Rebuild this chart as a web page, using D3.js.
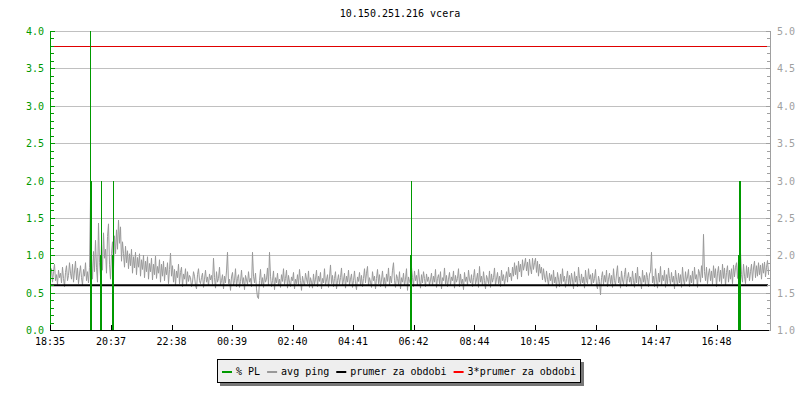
<!DOCTYPE html>
<html><head><meta charset="utf-8">
<script src="https://cdn.jsdelivr.net/npm/d3@7"></script>
<style>
body{margin:0;background:#fff}
text{font-family:"DejaVu Sans Mono","Liberation Mono",monospace;font-size:10px}
</style>
</head><body><svg id="c" width="800" height="400"></svg>
<script>
const title = "10.150.251.216 vcera";
const startTime = new Date(2020, 0, 1, 18, 35);
const spanMinutes = 1436;
const stepMinutes = 2;
// avg ping (right axis), one value every 2 minutes
const pingValues = [
1.72,1.82,1.64,1.78,1.88,1.66,1.74,1.61,1.80,1.70,1.76,1.63,1.84,1.69,1.58,1.77,1.86,1.66,1.73,1.90,
1.76,1.68,1.88,1.64,1.79,1.92,1.67,1.83,1.62,1.75,1.86,1.70,1.60,1.81,1.72,1.90,1.66,1.78,1.63,1.84,
2.75,1.95,1.68,2.05,1.78,2.20,1.84,1.64,2.43,1.90,1.72,2.15,1.80,2.30,1.96,2.08,1.76,2.25,2.42,1.88,
1.68,2.02,2.18,1.82,2.26,2.02,2.34,2.08,2.47,2.16,2.38,1.92,2.18,2.02,1.84,2.12,1.90,2.06,1.82,2.02,
1.86,2.08,1.76,1.98,1.83,2.04,1.74,1.97,1.84,2.02,1.72,1.94,1.81,2.00,1.70,1.92,1.78,1.98,1.68,1.89,
1.78,1.96,1.67,1.88,1.74,1.99,1.69,1.85,1.76,1.94,1.64,1.88,1.72,1.92,1.66,1.84,1.74,1.90,1.62,1.81,
2.03,1.72,1.86,1.64,1.81,1.60,1.79,1.70,1.88,1.62,1.77,1.84,1.58,1.75,1.68,1.82,1.60,1.78,1.65,1.73,
1.70,1.58,1.64,1.78,1.72,1.60,1.55,1.74,1.82,1.66,1.62,1.70,1.76,1.57,1.68,1.80,1.64,1.71,1.59,1.75,
1.67,1.73,1.61,1.96,1.70,1.56,1.78,1.64,1.69,1.84,1.60,1.66,1.74,1.55,1.72,1.63,1.79,2.04,1.62,1.68,
1.53,1.71,1.77,1.60,1.66,1.82,1.58,1.69,1.74,1.57,1.65,1.80,1.62,1.70,1.54,1.73,1.67,1.61,1.78,1.64,
1.69,1.58,2.04,1.72,1.63,1.76,1.55,1.44,1.42,1.66,1.81,1.60,1.70,1.57,1.75,1.64,1.68,1.83,1.59,2.04,
1.72,1.58,1.66,1.79,1.54,1.70,1.63,1.76,1.60,1.68,1.57,1.74,1.65,1.82,1.61,1.69,1.80,1.56,1.73,1.64,
1.58,1.71,1.66,1.77,1.55,1.68,1.62,1.74,1.60,1.81,1.66,1.53,1.72,1.64,1.59,1.76,1.68,1.62,1.79,1.57,
1.70,1.64,1.56,1.75,1.61,1.68,1.80,1.58,1.72,1.65,1.77,1.55,1.69,1.63,1.82,1.60,1.67,1.74,1.57,1.71,
1.87,1.62,1.73,1.58,1.69,1.78,1.55,1.66,1.74,1.61,1.70,1.83,1.59,1.67,1.76,1.56,1.72,1.64,1.80,1.60,
1.68,1.75,1.57,1.66,1.79,1.62,1.54,1.71,1.65,1.77,1.60,1.73,1.58,1.69,1.82,1.63,1.76,1.85,1.59,1.70,
1.64,1.57,1.78,1.66,1.72,1.55,1.69,1.81,1.62,1.74,1.58,1.67,1.79,1.61,1.70,1.56,1.75,1.65,1.83,1.60,
1.72,1.63,1.80,1.90,1.66,1.57,1.74,1.69,1.61,1.78,1.55,1.70,1.64,1.76,1.59,1.68,1.82,1.53,1.71,1.65,
1.62,1.84,1.70,1.58,1.79,1.66,1.73,1.60,1.81,1.67,1.56,1.74,1.63,1.78,1.69,1.58,1.75,1.65,1.71,1.60,
1.67,1.76,1.59,1.72,1.64,1.81,1.57,1.69,1.74,1.62,1.78,1.55,1.70,1.66,1.83,1.61,1.73,1.58,1.68,1.77,
1.60,1.71,1.66,1.79,1.56,1.73,1.64,1.69,1.82,1.58,1.75,1.62,1.68,1.54,1.77,1.65,1.71,1.60,1.80,1.67,
1.63,1.74,1.58,1.70,1.81,1.61,1.67,1.76,1.57,1.85,1.64,1.72,1.59,1.78,1.66,1.55,1.73,1.68,1.62,1.79,
1.57,1.75,1.64,1.70,1.83,1.60,1.68,1.77,1.62,1.72,1.58,1.80,1.66,1.74,1.61,1.69,1.78,1.64,1.84,1.71,
1.76,1.66,1.84,1.72,1.90,1.74,1.86,1.68,1.92,1.78,1.88,1.71,1.94,1.80,1.87,1.96,1.79,1.91,1.73,1.95,
1.83,1.75,1.96,1.81,1.90,1.96,1.77,1.92,1.72,1.88,1.76,1.84,1.67,1.82,1.71,1.64,1.79,1.68,1.60,1.76,
1.66,1.74,1.59,1.80,1.63,1.71,1.56,1.77,1.68,1.58,1.75,1.62,1.82,1.65,1.72,1.57,1.69,1.79,1.61,1.73,
1.60,1.76,1.67,1.55,1.78,1.64,1.72,1.58,1.84,1.69,1.61,1.75,1.63,1.71,1.56,1.80,1.66,1.62,1.82,1.68,
1.74,1.59,1.76,1.63,1.69,1.81,1.60,1.55,1.72,1.65,1.47,1.70,1.78,1.61,1.73,1.64,1.80,1.58,1.68,1.76,
1.62,1.73,1.57,1.82,1.66,1.60,1.75,1.86,1.63,1.71,1.56,1.79,1.67,1.61,1.74,1.83,1.58,1.69,1.77,1.64,
1.71,1.60,1.79,1.66,1.57,1.76,1.63,1.84,1.61,1.72,1.68,1.55,1.80,1.64,1.73,1.59,1.77,1.70,1.58,1.75,
1.78,2.04,1.63,1.72,1.58,1.82,1.67,1.56,1.76,1.64,1.85,1.60,1.73,1.66,1.80,1.57,1.74,1.62,1.83,1.69,
1.61,1.77,1.64,1.72,1.55,1.80,1.68,1.59,1.76,1.63,1.74,1.57,1.84,1.67,1.60,1.78,1.65,1.71,1.81,1.58,
1.73,1.63,1.79,1.60,1.84,1.68,1.74,1.57,1.81,1.76,1.64,1.86,1.70,2.28,1.78,1.66,1.84,1.62,1.75,1.82,
1.66,1.79,1.61,1.86,1.70,1.82,1.58,1.76,1.85,1.65,1.80,1.62,1.88,1.69,1.83,1.59,1.77,1.86,1.64,1.80,
1.68,1.82,1.62,1.87,1.71,1.84,1.90,1.69,1.93,2.00,2.04,1.74,1.64,1.88,1.72,1.62,1.86,1.70,1.84,1.66,
1.78,1.88,1.66,1.83,1.92,1.70,1.86,1.72,1.90,1.74,1.87,1.68,1.89,1.76,1.91,1.71,1.84,1.93,1.74,1.86
];
// % packet loss samples (left axis): minutes after start, value
const plMinutes = [80, 82, 100, 102, 124, 126, 720, 722, 1376, 1378, 1380];
const plValues  = [4,  2,  1,   2,   1,   2,   1,   2,   1,    2,    2];
const plSampleMinutes = 2;
const meanPing = 1.6;
const xTickLabels = ["18:35","20:37","22:38","00:39","02:40","04:41","06:42","08:44","10:45","12:46","14:47","16:48"];
const leftTickValues = [0,0.5,1,1.5,2,2.5,3,3.5,4];
const rightTickValues = [1,1.5,2,2.5,3,3.5,4,4.5,5];
const legendLabels = ["% PL","avg ping","prumer za obdobi","3*prumer za obdobi"];
const colors = {pl:"#009900", ping:"#999999", mean:"#000000", triple:"#e00000", grid:"#c0c0c0", rightAxis:"#a0a0a0"};

const svg = d3.select("#c");
const L = 50, R = 768, T = 31, B = 330;
const addMin = m => new Date(startTime.getTime() + m * 60000);
const x = d3.scaleTime().domain([startTime, addMin(spanMinutes)]).range([L, R]);
const yL = d3.scaleLinear().domain([0, 4]).range([B, T]);
const yR = d3.scaleLinear().domain([1, 5]).range([B, T]);
const snap = v => Math.round(v) + 0.5;

svg.append("defs").append("clipPath").attr("id", "plot")
  .append("rect").attr("x", L).attr("y", T - 2).attr("width", R - L + 1).attr("height", B - T + 2);

// title
svg.append("text").attr("x", 400).attr("y", 17).attr("text-anchor", "middle").attr("fill", "#000").text(title);

// grid
svg.append("g").selectAll("line").data(leftTickValues.filter(v => v > 0)).join("line")
  .attr("x1", L).attr("x2", R).attr("y1", d => snap(yL(d))).attr("y2", d => snap(yL(d)))
  .attr("stroke", colors.grid).attr("shape-rendering", "crispEdges");

// 3*mean line
svg.append("line").attr("x1", L).attr("x2", R)
  .attr("y1", snap(yR(3 * meanPing))).attr("y2", snap(yR(3 * meanPing)))
  .attr("stroke", colors.triple).attr("shape-rendering", "crispEdges");

// ping line
const pingData = pingValues.map((v, i) => ({t: addMin(i * stepMinutes), v}));
svg.append("path").datum(pingData).attr("clip-path", "url(#plot)")
  .attr("d", d3.line().x(d => x(d.t) + 0.5).y(d => yR(d.v)))
  .attr("fill", "none").attr("stroke", colors.ping).attr("stroke-width", 1);

// mean line
svg.append("line").attr("x1", L).attr("x2", R)
  .attr("y1", yR(meanPing)).attr("y2", yR(meanPing))
  .attr("stroke", colors.mean).attr("stroke-width", 2);

// packet loss impulses
const plData = plMinutes.map((m, i) => ({t: addMin(m), t2: addMin(m + plSampleMinutes), v: plValues[i]}));
svg.append("g").selectAll("rect").data(plData).join("rect")
  .attr("x", d => Math.round(x(d.t)))
  .attr("width", d => Math.max(1, Math.round(x(d.t2)) - Math.round(x(d.t))))
  .attr("y", d => Math.round(yL(d.v)))
  .attr("height", d => Math.round(yL(0)) - Math.round(yL(d.v)))
  .attr("fill", colors.pl).attr("shape-rendering", "crispEdges");

// left axis
const gl = svg.append("g").attr("shape-rendering", "crispEdges");
gl.append("line").attr("x1", L + 0.5).attr("x2", L + 0.5).attr("y1", T).attr("y2", B + 1).attr("stroke", colors.pl);
const minorL = d3.range(0, 41).map(i => i / 10);
gl.selectAll("line.m").data(minorL).join("line").attr("class", "m")
  .attr("x1", L).attr("x2", d => L + (leftTickValues.includes(d) ? 5 : 4))
  .attr("y1", d => snap(yL(d))).attr("y2", d => snap(yL(d))).attr("stroke", colors.pl);
gl.selectAll("text").data(leftTickValues).join("text")
  .attr("x", 44).attr("y", d => yL(d) + 4).attr("text-anchor", "end").attr("fill", colors.pl)
  .text(d => d3.format(".1f")(d));

// right axis
const gr = svg.append("g").attr("shape-rendering", "crispEdges");
gr.append("line").attr("x1", R + 2.5).attr("x2", R + 2.5).attr("y1", T).attr("y2", B + 1).attr("stroke", colors.rightAxis);
const minorR = d3.range(10, 51).map(i => i / 10);
gr.selectAll("line.m").data(minorR).join("line").attr("class", "m")
  .attr("x1", R + 3).attr("x2", d => R + 3 - (rightTickValues.includes(d) ? 5 : 4))
  .attr("y1", d => snap(yR(d))).attr("y2", d => snap(yR(d))).attr("stroke", colors.rightAxis);
gr.selectAll("text").data(rightTickValues).join("text")
  .attr("x", 777).attr("y", d => yR(d) + 4).attr("fill", colors.rightAxis)
  .text(d => d3.format(".1f")(d));

// bottom axis
const tickDates = xTickLabels.map(s => {
  const [h, m] = s.split(":").map(Number);
  const d = new Date(startTime); d.setHours(h, m);
  if (d < startTime) d.setDate(d.getDate() + 1);
  return {d, s};
});
const gb = svg.append("g").attr("shape-rendering", "crispEdges");
gb.append("line").attr("x1", L).attr("x2", R + 1).attr("y1", B + 0.5).attr("y2", B + 0.5).attr("stroke", "#000");
gb.selectAll("line.t").data(tickDates).join("line").attr("class", "t")
  .attr("x1", d => snap(x(d.d))).attr("x2", d => snap(x(d.d)))
  .attr("y1", B - 5).attr("y2", B).attr("stroke", "#000");
gb.selectAll("text").data(tickDates).join("text")
  .attr("x", d => x(d.d)).attr("y", 345).attr("text-anchor", "middle").attr("fill", "#000")
  .text(d => d.s);

// legend
const legendColors = [colors.pl, colors.ping, colors.mean, "#ff0000"];
const lg = svg.append("g");
lg.append("rect").attr("x", 220).attr("y", 362).attr("width", 364).attr("height", 24).attr("fill", "#777");
lg.append("rect").attr("x", 217.5).attr("y", 359.5).attr("width", 363).attr("height", 23)
  .attr("fill", "#eeeeee").attr("stroke", "#000");
let lx = 222;
legendLabels.forEach((lab, i) => {
  lg.append("rect").attr("x", lx).attr("y", 371).attr("width", 10).attr("height", 2).attr("fill", legendColors[i]);
  const t = lg.append("text").attr("x", lx + 14).attr("y", 375).attr("fill", "#000").text(lab);
  lx = lx + 14 + t.node().getComputedTextLength() + 7;
});
</script>
</body></html>
